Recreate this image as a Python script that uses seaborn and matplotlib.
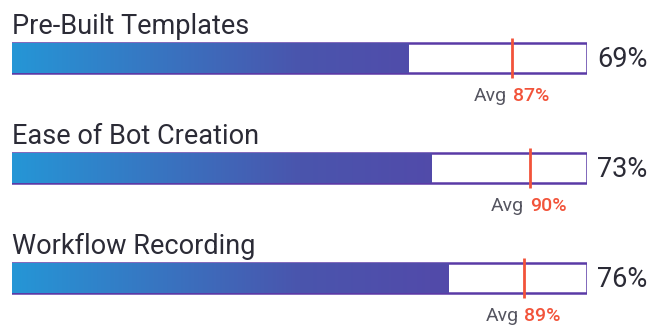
import matplotlib
matplotlib.use("Agg")
import matplotlib.pyplot as plt
import numpy as np
import pandas as pd
import seaborn as sns
from matplotlib.colors import LinearSegmentedColormap

categories = ["Pre-Built Templates", "Ease of Bot Creation", "Workflow Recording"]
scores = [69, 73, 76]
averages = [87, 90, 89]

PURPLE = "#5a3aa6"
RED = "#f2533a"
TEXT = "#2b2b36"
GREY = "#555560"
BAR_H = 0.27

sns.set_style("white")
plt.rcParams["font.family"] = ["Roboto", "DejaVu Sans"]

df = pd.DataFrame({"category": categories, "score": scores, "avg": averages})
df["full"] = 100

fig = plt.figure(figsize=(6.66, 3.27), dpi=100)
ax = fig.add_axes([12 / 666, 0, 575 / 666, 1])

# white track with purple outline
sns.barplot(data=df, x="full", y="category", color="white", edgecolor=PURPLE,
            linewidth=1.8, width=BAR_H, saturation=1, ax=ax)
n_track = len(ax.patches)

# score bars, used as clip paths for the gradient
sns.barplot(data=df, x="score", y="category", color="white", width=BAR_H,
            saturation=1, ax=ax)
score_bars = ax.patches[n_track:]

cmap = LinearSegmentedColormap.from_list("blue_purple", ["#2596d6", "#4a55ad", "#5a3fa6"])
grad = np.linspace(0, 1, 256).reshape(1, -1)

for bar in score_bars:
    bar.set_facecolor("none")
    bar.set_edgecolor("none")
    y0 = bar.get_y()
    y1 = y0 + bar.get_height()
    im = ax.imshow(grad, cmap=cmap, extent=(0, 100, y1, y0), aspect="auto", zorder=3)
    im.set_clip_path(bar)

for i, (cat, score, avg) in enumerate(zip(categories, scores, averages)):
    ax.vlines(avg, i - 0.178, i + 0.178, color=RED, lw=2, zorder=4)
    ax.text(0, i - 0.215, cat, fontsize=19.5, color=TEXT, va="baseline", ha="left",
            clip_on=False)
    ax.text(101.7, i + 0.01, f"{score}%", fontsize=19.5, color=TEXT, va="center",
            ha="left", clip_on=False)
    ax.text(avg - 0.9, i + 0.395, "Avg", fontsize=14, color=GREY, va="baseline",
            ha="right", clip_on=False)
    ax.text(avg + 0.1, i + 0.395, f"{avg}%", fontsize=14, color=RED, va="baseline",
            ha="left", fontweight="medium", clip_on=False)

ax.set_xlim(0, 100)
ax.set_ylim(2.445, -0.527)
ax.set_axis_off()

fig.savefig("out.png", dpi=100)
